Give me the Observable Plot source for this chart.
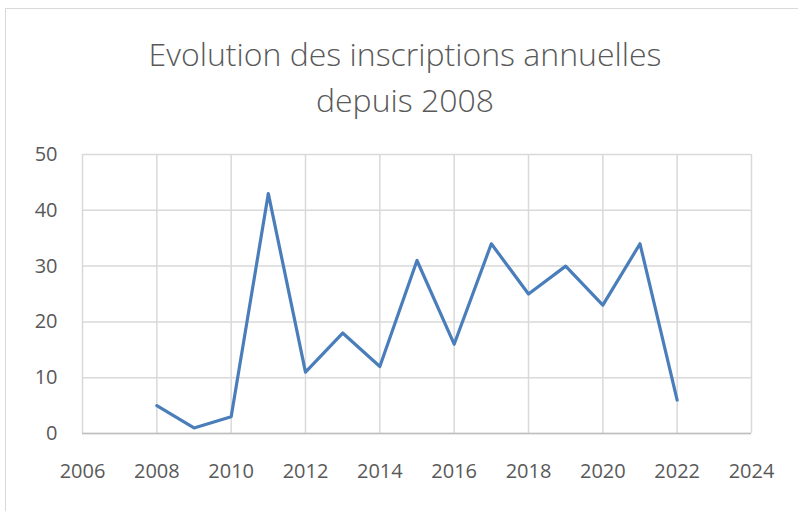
<!DOCTYPE html>
<html>
<head>
<meta charset="utf-8">
<script src="https://cdn.jsdelivr.net/npm/d3@7"></script>
<script src="https://cdn.jsdelivr.net/npm/@observablehq/plot@0.6"></script>
<style>
  html, body { margin: 0; padding: 0; background: #fff; overflow: hidden; }
  #wrap { position: relative; width: 798px; height: 511px; }
  #border { position: absolute; left: 5px; top: 8px; width: 900px; height: 600px; border: 1.5px solid #d9d9d9; box-sizing: border-box; }
  #title { position: absolute; left: 0; top: 31px; width: 810px; text-align: center; font-family: "Open Sans", sans-serif; font-weight: 300; font-size: 32px; line-height: 46px; color: #595959; }
  #chart { position: absolute; left: 0; top: 0; }
</style>
</head>
<body>
<div id="wrap">
  <div id="border"></div>
  <div id="chart"></div>
  <div id="title">Evolution des inscriptions annuelles<br>depuis 2008</div>
</div>
<script>
const years = [2008, 2009, 2010, 2011, 2012, 2013, 2014, 2015, 2016, 2017, 2018, 2019, 2020, 2021, 2022];
const inscriptions = [5, 1, 3, 43, 11, 18, 12, 31, 16, 34, 25, 30, 23, 34, 6];
const xTicks = [2006, 2008, 2010, 2012, 2014, 2016, 2018, 2020, 2022, 2024];
const yTicks = [0, 10, 20, 30, 40, 50];

const data = years.map((y, i) => ({year: y, value: inscriptions[i]}));

const chart = Plot.plot({
  width: 798,
  height: 511,
  marginLeft: 82,
  marginRight: 47,
  marginTop: 154,
  marginBottom: 78,
  style: {fontFamily: "Open Sans, sans-serif", fontSize: "20px", color: "#595959", background: "transparent"},
  x: {domain: [2006, 2024], ticks: xTicks, tickFormat: d => String(d), tickSize: 0, tickPadding: 30, label: null},
  y: {domain: [0, 50], ticks: yTicks, tickSize: 0, tickPadding: 25, label: null},
  marks: [
    Plot.gridY(yTicks, {stroke: "#d9d9d9", strokeOpacity: 1, strokeWidth: 1.5}),
    Plot.gridX(xTicks, {stroke: "#d9d9d9", strokeOpacity: 1, strokeWidth: 1.5}),
    Plot.ruleY([0], {stroke: "#bfbfbf", strokeWidth: 1.5}),
    Plot.axisX(xTicks, {tickSize: 0, tickPadding: 30, fill: "#595959", fontSize: 20, tickFormat: d => String(d)}),
    Plot.axisY(yTicks, {tickSize: 0, tickPadding: 25, fill: "#595959", fontSize: 20}),
    Plot.line(data, {x: "year", y: "value", stroke: "#4a7ebb", strokeWidth: 3.2, strokeLinejoin: "round"})
  ]
});
document.getElementById("chart").appendChild(chart);
</script>
</body>
</html>
